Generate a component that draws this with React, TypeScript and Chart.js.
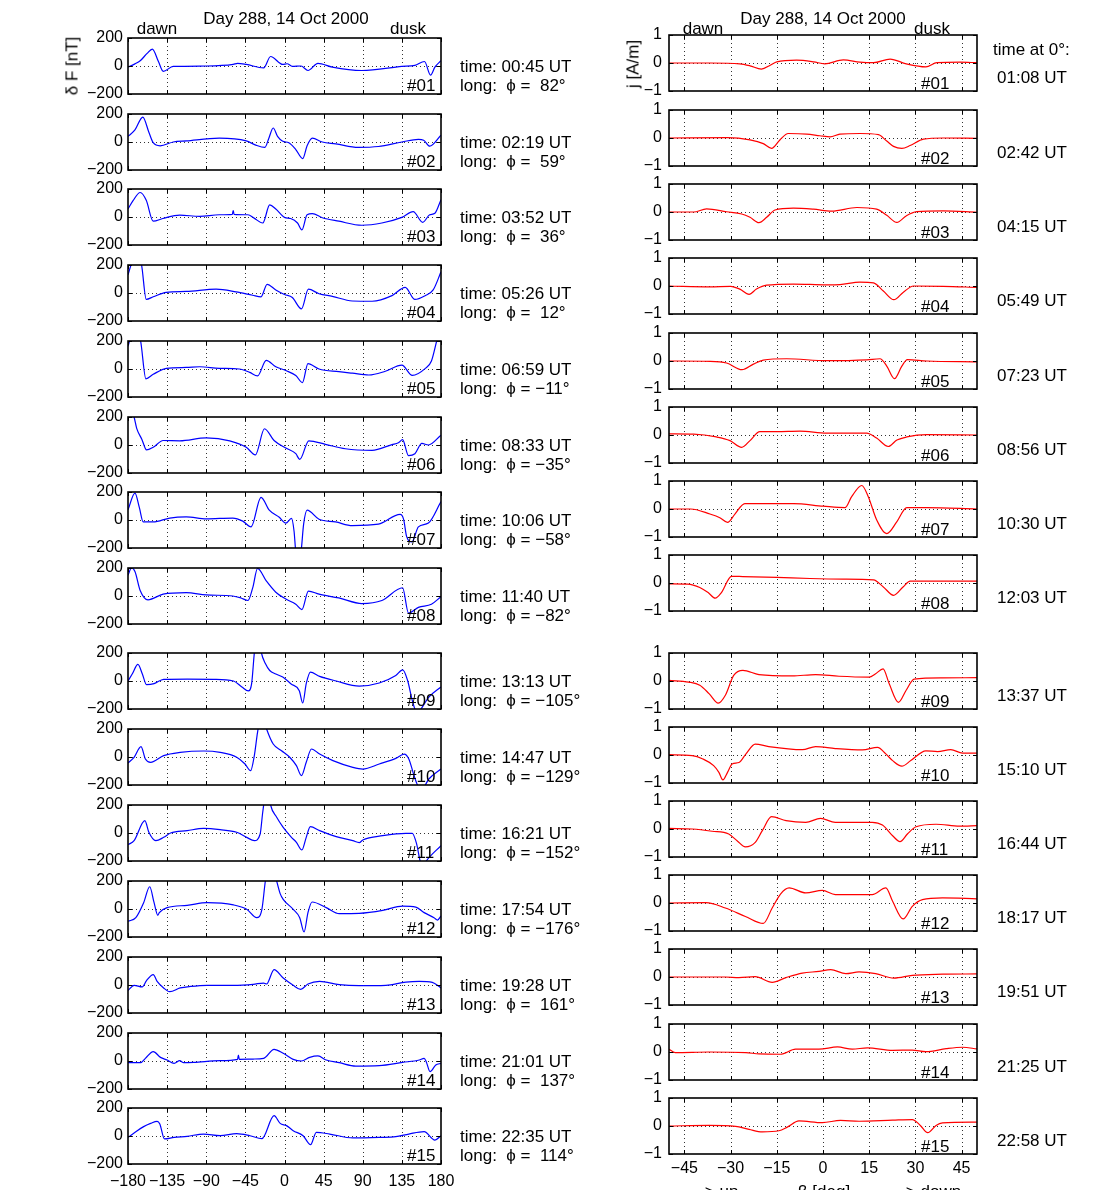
import React, { useEffect, useRef } from 'react';
import { Chart, registerables } from 'chart.js';
Chart.register(...registerables);

const FONT = '"Liberation Sans", Arial, Helvetica, sans-serif';

// ---------- left column: magnetic residual dF [nT] vs longitude ----------
const lon01 = [-180,-172,-166,-158,-152,-145,-139.5,-128,-90,-59,-54,-44,-24,-16,-2,3,9,19,27,38.5,55,89,135,150,161,168,173,180];
const dF01 = [-8,15,37,90,121,32,-38,-3,0,11,19,11,-14,68,11,16,-3,0,-32,19,-8,-32,-3,5,32,-65,-8,38];
const lon02 = [-180,-172,-163,-156,-151,-143,-128,-113,-75,-44,-33,-22.5,-18,-13,-8,-2,5,13,21,26,32,43.5,59,85,108,135,154,160,167,180];
const dF02 = [40,86,178,70,-5,-27,0,8,27,8,-22,-38,27,100,40,5,-5,-54,-119,-27,27,0,-13,-38,-32,0,19,13,-30,49];
const lon03 = [-180,-174,-166,-159,-151,-140,-120.5,-97.6,-75,-60,-59,-58,-42,-35,-25,-17,-10,0,7,15,20,26,32,43.5,62.5,89,112,135,148,159,167,173,180];
const dF03 = [57,119,175,119,-30,-11,13,5,16,19,46,19,16,-8,-43,86,57,-3,-11,-43,-92,16,24,-5,-30,-59,-43,-3,38,-38,16,27,124];
const lon04 = [-180,-176,-170,-164.4,-159,-151,-136,-113,-78.6,-55.7,-36.6,-27,-20,-10,0,9,19.5,27.5,39.7,55,78,100.7,123.6,138.8,150,161.7,171,180];
const dF04 = [130,210,300,200,-46,-27,5,11,27,8,-16,-27,62,22,-11,-32,-113,27,-5,-24,-57,-59,-19,40,-46,-19,22,151];
const lon05 = [-180,-178,-172,-165.5,-159.4,-151,-135.8,-113,-97.6,-75,-52,-40,-31,-21,-10,1.5,13,20.6,27,39.7,62.5,78,97,116,135,147,161.7,169,175,180];
const dF05 = [162,205,320,200,-70,-38,5,11,16,5,0,-24,-49,62,16,-11,-46,-97,38,0,-19,-30,-43,-16,27,-46,3,57,200,330];
const lon06 = [-180,-173,-170,-164,-158.7,-151,-139.6,-120.5,-90,-63,-44,-33.5,-23,-12,1.5,13,17.5,28,47,70,100.7,123.6,131,135.8,142.6,150,158,165.5,180];
const dF06 = [320,200,119,40,-35,-16,32,30,51,30,-16,-70,116,32,-22,-62,-103,30,5,-27,-38,3,16,38,-76,-62,11,0,70];
const lon07 = [-180,-172,-167,-162.5,-151,-132,-113,-90,-59.5,-48,-38.5,-27,-17.5,-6,1.5,8,11,13,16,19,22,26,39.7,58.7,78,108,133,137,140.5,146.5,154,165.5,180];
const dF07 = [73,192,90,-14,-14,14,22,8,14,-8,-49,162,70,19,-22,11,-80,-230,-300,-230,-30,70,5,-14,-40,-30,40,5,-119,-157,-49,-22,132];
const lon08 = [-180,-176,-172,-166,-157,-139.6,-113,-90,-59.5,-50,-42,-36.5,-31,-21,-10,1.5,13,20,27.5,39.7,62.5,89,112,135.8,142.6,154,169,180];
const dF08 = [148,200,175,40,-27,13,24,8,0,-14,-32,60,197,108,27,-22,-59,-97,35,13,-14,-54,-32,59,-122,-81,-59,-5];
const lon09 = [-180,-175,-168.6,-163.6,-158.7,-150,-139,-112,-81.6,-58.7,-49,-41.6,-37.8,-35,-33,-29,-26.5,-22,-17,-10,-2,7.6,17,21,25,29.7,40.4,59.5,86,109,128,136,141.5,147,150,153,157,166,180];
const dF09 = [0,52,119,52,-26,-19,12,14,12,0,-43,-71,-19,180,300,300,200,125,75,50,28,-21,-69,-157,-19,64,33,0,-36,-14,40,80,5,-140,-200,-230,-200,-115,-42];
const lon10 = [-180,-173,-165,-160,-154,-139,-120,-93,-74,-55,-45.4,-39,-34.7,-31,-28,-24,-20.6,-13,-3.4,6,13.7,19.5,25,31,40.4,55.7,78.6,90,109,128,137.7,143,149,153,158,166,180];
const dF10 = [-43,-2,74,-14,-38,10,33,43,33,-2,-50,-98,10,176,270,270,200,93,45,-2,-62,-133,-38,57,21,-26,-74,-86,-50,-10,21,-14,-133,-200,-230,-157,-86];
const lon11 = [-180,-173,-160.6,-156,-148,-139,-131,-112,-93,-74,-55,-43.5,-34.7,-28,-25,-21,-18,-16,-9,-1.5,8,13.7,20,25,29.7,40.4,59.5,78.6,86,90,113,139.6,147,152,156,159,163,180];
const dF11 = [-83,-55,88,5,-55,-31,0,17,33,24,5,-31,-55,-7,150,300,280,200,112,40,-31,-67,-121,-31,45,17,-26,-55,-69,-50,-19,-2,-2,-79,-200,-240,-200,-90];
const lon12 = [-180,-171,-162,-155,-150,-145.7,-144,-135,-112,-89,-58.7,-43.5,-32,-26,-22,-19,-13,-9,-5,-1.5,10,17.5,22.5,27,31.7,48,63,86,113,135.8,151,160.6,172,176,180];
const dF12 = [-88,-62,45,159,45,-45,-26,10,26,45,29,-2,-62,-2,200,300,300,200,110,69,-2,-62,-164,-26,50,10,-33,-31,-10,21,14,-26,-62,-79,-50];
const lon13 = [-180,-173,-163.6,-158.7,-151,-146.5,-139,-132,-120,-108,-89,-58.7,-36,-24,-20.6,-12,-1.5,10,18.7,27,40.4,63,86,116.7,139.6,155,170,180];
const dF13 = [-40,-2,-14,31,74,26,-21,-48,-21,-10,-2,-2,5,14,7,110,50,-2,-31,7,26,2,-5,-2,21,26,19,-21];
const lon14 = [-180,-165.5,-160,-151,-142.6,-135,-127,-120.5,-116,-104.5,-74,-54,-53,-52,-36,-24,-12,-1.5,10,19.5,29,38.5,48,63,82,109,135.8,155,160.6,163,167.4,174,180];
const dF14 = [-12,-12,19,67,26,7,-17,2,-12,-10,2,12,43,12,14,19,83,55,12,0,26,36,7,-12,-36,-33,-10,7,19,-5,-76,-29,-17];
const lon15 = [-180,-173,-162,-154,-146.5,-143.4,-138,-127,-112,-93,-74,-55,-39.7,-26,-12,-5,2.3,10,21.4,30,36.6,52,78.6,109,128,143,160.6,173,180];
const dF15 = [-10,21,67,90,105,86,-21,-10,-2,14,2,17,2,-19,145,90,74,38,2,-62,26,14,-14,-10,-5,14,31,-29,2];

// ---------- right column: current density j [A/m] vs beta ----------
const beta01 = [-50,-36.7,-27,-23.7,-20,-17,-15,-8.6,-3,0.6,6.6,12,16.4,21.8,27,33.4,37,44.5,50];
const j01 = [0,0,-0.03,-0.1,-0.22,-0.07,0.04,0.1,0.04,-0.03,0.11,0.03,0.01,0.14,-0.03,-0.14,0.01,0.03,0.01];
const beta02 = [-50,-31,-23.7,-19.4,-16.7,-14,-11.3,-5.3,-1,2.3,5.5,12,18,20.7,22.9,25.6,28.3,32.6,39,50];
const j02 = [0,0.01,-0.07,-0.2,-0.37,-0.07,0.16,0.14,0.08,0.04,0.14,0.16,0.12,-0.11,-0.3,-0.37,-0.27,-0.04,0,-0.01];
const beta03 = [-50,-42,-37.8,-31.3,-26.4,-23.7,-20.8,-18.3,-15.6,-9.6,-3.1,2.8,11,17.4,20.7,24,27,30.4,39,50];
const j03 = [0,0,0.11,0.01,-0.07,-0.19,-0.38,-0.19,0.07,0.14,0.1,0.03,0.16,0.1,-0.12,-0.37,-0.14,0.01,0.04,-0.01];
const beta04 = [-50,-36.7,-30,-27,-24,-21.6,-18.3,-9.6,1.2,5.5,12,16.4,19.6,23,26,29.4,39,50];
const j04 = [0,-0.03,-0.01,-0.11,-0.3,-0.11,0.03,0.07,0.04,0.05,0.14,0.11,-0.18,-0.49,-0.23,0,-0.01,-0.05];
const beta05 = [-50,-36.7,-31.3,-26.3,-22.6,-19.4,-11.8,1.2,14.2,18.5,20.7,23.2,25.6,27.4,33.7,50];
const j05 = [0,-0.01,-0.07,-0.31,-0.11,0.03,0.08,0.01,0.04,0.08,-0.18,-0.63,-0.18,0.05,0,-0.03];
const beta06 = [-50,-42,-34.6,-30.2,-26.4,-23.7,-20.5,-15,-7.5,1.2,14.2,17.4,21.2,24,27.2,33.7,50];
const j06 = [0.04,0.03,-0.07,-0.2,-0.44,-0.2,0.12,0.12,0.14,0.07,0.07,-0.11,-0.41,-0.18,-0.07,0.01,0];
const beta07 = [-50,-43,-36.7,-33.5,-31,-28.6,-25.4,-20.5,-9.6,0.1,7.2,9.3,12.6,14.7,17.4,20.7,24,27.2,33.7,50];
const j07 = [0,0,-0.18,-0.31,-0.48,-0.18,0.19,0.19,0.19,0.1,0.05,0.44,0.84,0.44,-0.38,-0.88,-0.45,0.05,0.05,0];
const beta08 = [-50,-44,-40,-37.3,-35,-33,-29.7,-26,-15,-4.2,6.6,16.4,19.6,22.9,26,28.3,39,50];
const j08 = [-0.03,-0.04,-0.16,-0.34,-0.54,-0.34,0.24,0.23,0.2,0.16,0.14,0.11,-0.14,-0.44,-0.14,0.07,0.07,0.07];
const beta09 = [-50,-43.6,-40,-37,-34,-31.7,-29,-26,-20.8,-10,-2.4,5.2,15,17.1,19.5,21.5,24.5,27,29.6,38.8,50];
const j09 = [0.02,-0.04,-0.15,-0.45,-0.79,-0.51,0.2,0.38,0.23,0.18,0.23,0.17,0.14,0.26,0.43,-0.1,-0.76,-0.33,0.07,0.11,0.12];
const beta10 = [-50,-42.5,-39,-35.5,-33.8,-32.5,-31,-29.5,-27.3,-25,-22,-17.6,-6.7,-2.4,4,12.8,17.7,20.4,22.6,25.6,28.5,33.4,37.2,41.5,45.3,50];
const j10 = [0.01,-0.02,-0.14,-0.38,-0.62,-0.89,-0.62,-0.32,-0.27,0.04,0.39,0.3,0.19,0.3,0.23,0.18,0.27,0.04,-0.2,-0.4,-0.2,0.15,0.12,0.19,0.07,0.07];
const beta11 = [-50,-42.5,-36,-30.6,-27.9,-25.2,-22,-19.7,-16.7,-12,-5.6,-0.8,4,16,19.3,22.6,25,27.4,30.2,36.7,44.3,50];
const j11 = [0.02,0,-0.08,-0.18,-0.42,-0.64,-0.48,-0.06,0.44,0.3,0.24,0.38,0.24,0.24,0.14,-0.24,-0.45,-0.18,0.08,0.17,0.1,0.12];
const beta12 = [-50,-38,-31.7,-25.2,-19.4,-16.5,-13.8,-11,-5.6,-0.2,4,16,20.4,22.6,26,29,32.3,38.8,50];
const j12 = [0,0.01,-0.18,-0.48,-0.73,-0.18,0.32,0.54,0.36,0.45,0.3,0.3,0.54,0.06,-0.57,-0.12,0.12,0.18,0.15];
const beta13 = [-50,-31.7,-27.3,-22,-16.5,-12,-6.7,-1.3,2.5,7.4,11.7,17.1,23,29,38.8,50];
const j13 = [0,0,-0.02,0.01,-0.19,-0.02,0.14,0.2,0.26,0.12,0.18,0.12,-0.04,0.06,0.1,0.11];
const beta14 = [-50,-48,-37,-25,-20.8,-13.8,-8.9,-1.3,4.7,9.5,14.4,22.6,29,33.4,40,45.3,50];
const j14 = [0.1,-0.02,0,-0.02,-0.07,-0.08,0.1,0.1,0.18,0.1,0.15,0.06,0.07,0.01,0.12,0.17,0.11];
const beta15 = [-50,-37,-28.4,-24,-19.7,-14.3,-11.6,-7.8,-0.2,5.7,11.7,22.6,29,31.6,34,36.7,38.8,50];
const j15 = [0,0.02,-0.01,-0.12,-0.21,-0.17,-0.04,0.18,0.12,0.2,0.17,0.21,0.23,0.02,-0.24,0.02,0.11,0.14];

// ---------- labels ----------
const passIds = ['#01','#02','#03','#04','#05','#06','#07','#08','#09','#10','#11','#12','#13','#14','#15'];
const timeUT = ['00:45','02:19','03:52','05:26','06:59','08:33','10:06','11:40','13:13','14:47','16:21','17:54','19:28','21:01','22:35'];
const longDeg = ['82','59','36','12','−11','−35','−58','−82','−105','−129','−152','−176','161','137','114'];
const time0 = ['01:08','02:42','04:15','05:49','07:23','08:56','10:30','12:03','13:37','15:10','16:44','18:17','19:51','21:25','22:58'];
const lonTicks = [-180,-135,-90,-45,0,45,90,135,180];
const dFTicks = [-200,0,200];
const betaTicks = [-45,-30,-15,0,15,30,45];
const jTicks = [-1,0,1];

const lonSeries = [lon01,lon02,lon03,lon04,lon05,lon06,lon07,lon08,lon09,lon10,lon11,lon12,lon13,lon14,lon15];
const dFSeries = [dF01,dF02,dF03,dF04,dF05,dF06,dF07,dF08,dF09,dF10,dF11,dF12,dF13,dF14,dF15];
const betaSeries = [beta01,beta02,beta03,beta04,beta05,beta06,beta07,beta08,beta09,beta10,beta11,beta12,beta13,beta14,beta15];
const jSeries = [j01,j02,j03,j04,j05,j06,j07,j08,j09,j10,j11,j12,j13,j14,j15];

// ---------- layout ----------
const L_LEFT = 128, L_W = 313, R_LEFT = 669, R_W = 308, AREA_H = 56;
const leftTops = [38,114,189,265,341,417,492,568,653,729,805,881,957,1033,1108];
const rightTops = [35,110,184,258,333,407,481,555,653,727,801,875,949,1024,1098];

const fmt = (v: number) => (v < 0 ? '−' + Math.abs(v) : String(v));

const framePlugin = {
  id: 'frame',
  beforeDatasetsDraw(chart: any) {
    const { ctx, chartArea: a, scales } = chart;
    const x = scales.x, y = scales.y;
    ctx.save();
    ctx.strokeStyle = '#333';
    ctx.lineWidth = 1;
    ctx.setLineDash([1, 3]);
    x.ticks.forEach((t: any) => {
      const px = Math.round(x.getPixelForValue(t.value)) + 0.5;
      if (px > a.left + 2 && px < a.right - 2) {
        ctx.beginPath(); ctx.moveTo(px, a.top); ctx.lineTo(px, a.bottom); ctx.stroke();
      }
    });
    y.ticks.forEach((t: any) => {
      const py = Math.round(y.getPixelForValue(t.value)) + 0.5;
      if (py > a.top + 2 && py < a.bottom - 2) {
        ctx.beginPath(); ctx.moveTo(a.left, py); ctx.lineTo(a.right, py); ctx.stroke();
      }
    });
    ctx.restore();
  },
  afterDatasetsDraw(chart: any) {
    const { ctx, chartArea: a, scales } = chart;
    const x = scales.x, y = scales.y;
    ctx.save();
    ctx.strokeStyle = '#000';
    ctx.setLineDash([]);
    ctx.lineWidth = 1;
    x.ticks.forEach((t: any) => {
      const px = Math.round(x.getPixelForValue(t.value)) + 0.5;
      ctx.beginPath();
      ctx.moveTo(px, a.top); ctx.lineTo(px, a.top + 4);
      ctx.moveTo(px, a.bottom - 4); ctx.lineTo(px, a.bottom);
      ctx.stroke();
    });
    y.ticks.forEach((t: any) => {
      const py = Math.round(y.getPixelForValue(t.value)) + 0.5;
      ctx.beginPath();
      ctx.moveTo(a.left, py); ctx.lineTo(a.left + 4, py);
      ctx.moveTo(a.right - 4, py); ctx.lineTo(a.right, py);
      ctx.stroke();
    });
    ctx.lineWidth = 1.6;
    ctx.strokeRect(a.left, a.top, a.right - a.left, a.bottom - a.top);
    ctx.restore();
  },
};

type PanelProps = {
  xs: number[]; ys: number[]; color: string;
  areaLeft: number; areaTop: number; areaW: number;
  xMin: number; xMax: number; yMin: number; yMax: number;
  xTicks: number[]; yTicks: number[]; showX: boolean; yPad: number; xPad: number;
};

function Panel(p: PanelProps) {
  const ref = useRef<HTMLCanvasElement>(null);
  const YW = 70, PT = 20, PR = 24;
  const XH = p.showX ? 30 : 0;
  const PB = p.showX ? 4 : 20;
  const W = YW + p.areaW + PR;
  const H = PT + AREA_H + XH + PB;
  useEffect(() => {
    const font = { family: FONT, size: 16 };
    const chart = new Chart(ref.current as HTMLCanvasElement, {
      type: 'line',
      data: {
        datasets: [{
          data: p.xs.map((x, i) => ({ x, y: p.ys[i] })),
          borderColor: p.color,
          borderWidth: 1.2,
          pointRadius: 0,
          cubicInterpolationMode: 'monotone',
          clip: 0,
          fill: false,
        } as any],
      },
      options: {
        animation: false,
        responsive: false,
        devicePixelRatio: 1,
        events: [],
        layout: { padding: { top: PT, right: PR, bottom: PB, left: 0 } },
        plugins: { legend: { display: false }, tooltip: { enabled: false } },
        scales: {
          x: {
            type: 'linear', min: p.xMin, max: p.xMax,
            grid: { display: false, drawTicks: false, tickLength: 0 }, border: { display: false },
            afterBuildTicks: (s: any) => { s.ticks = p.xTicks.map((v) => ({ value: v })); },
            afterFit: (s: any) => { s.height = XH; },
            ticks: { display: p.showX, autoSkip: false, maxRotation: 0, minRotation: 0, padding: p.xPad, font, color: '#000', callback: (v: any) => fmt(Number(v)) },
          },
          y: {
            type: 'linear', min: p.yMin, max: p.yMax,
            grid: { display: false, drawTicks: false, tickLength: 0 }, border: { display: false },
            afterBuildTicks: (s: any) => { s.ticks = p.yTicks.map((v) => ({ value: v })); },
            afterFit: (s: any) => { s.width = YW; },
            ticks: { autoSkip: false, padding: p.yPad, font, color: '#000', callback: (v: any) => fmt(Number(v)) },
          },
        },
      } as any,
      plugins: [framePlugin],
    });
    return () => chart.destroy();
  }, []);
  return (
    <canvas
      ref={ref}
      width={W}
      height={H}
      style={{ position: 'absolute', left: p.areaLeft - YW, top: p.areaTop - PT, width: W, height: H }}
    />
  );
}

type TProps = { x: number; y: number; children: React.ReactNode; center?: boolean; rotate?: boolean; size?: number };
function T({ x, y, children, center, rotate, size = 17 }: TProps) {
  const tf = rotate ? 'translate(-50%, -50%) rotate(-90deg)' : center ? 'translate(-50%, -50%)' : 'translate(0, -50%)';
  return (
    <div style={{ position: 'absolute', left: x, top: y, transform: tf, fontFamily: FONT, fontSize: size, lineHeight: 1, whiteSpace: 'pre', color: '#000' }}>
      {children}
    </div>
  );
}

export default function App() {
  return (
    <div style={{ position: 'absolute', left: 0, top: 0, width: 1103, height: 1190, overflow: 'hidden', background: '#fff' }}>
      {lonSeries.map((xs, i) => (
        <Panel key={'L' + i} xs={xs} ys={dFSeries[i]} color="#0000ff"
          areaLeft={L_LEFT} areaTop={leftTops[i]} areaW={L_W}
          xMin={-180} xMax={180} yMin={-200} yMax={200}
          xTicks={lonTicks} yTicks={dFTicks} showX={i === 14} yPad={5} xPad={8} />
      ))}
      {betaSeries.map((xs, i) => (
        <Panel key={'R' + i} xs={xs} ys={jSeries[i]} color="#ff0000"
          areaLeft={R_LEFT} areaTop={rightTops[i]} areaW={R_W}
          xMin={-50} xMax={50} yMin={-1} yMax={1}
          xTicks={betaTicks} yTicks={jTicks} showX={i === 14} yPad={7} xPad={5} />
      ))}

      <T x={286} y={18} center>Day 288, 14 Oct 2000</T>
      <T x={823} y={18} center>Day 288, 14 Oct 2000</T>
      <T x={157} y={28} center>dawn</T>
      <T x={408} y={28} center>dusk</T>
      <T x={703} y={28} center>dawn</T>
      <T x={932} y={28} center>dusk</T>
      <T x={72} y={66} rotate>δ F [nT]</T>
      <T x={633} y={64} rotate>j [A/m]</T>
      <T x={993} y={49}>time at 0°:</T>

      {passIds.map((id, i) => (
        <React.Fragment key={'t' + i}>
          <T x={407} y={leftTops[i] + AREA_H - 9}>{id}</T>
          <T x={921} y={rightTops[i] + AREA_H - 8}>{id}</T>
          <T x={460} y={leftTops[i] + 28}>{'time: ' + timeUT[i] + ' UT'}</T>
          <T x={460} y={leftTops[i] + 47}>{'long:  ϕ = ' + (longDeg[i].startsWith('−') ? '' : ' ') + longDeg[i] + '°'}</T>
          <T x={997} y={rightTops[i] + 28 + 14}>{time0[i] + ' UT'}</T>
        </React.Fragment>
      ))}

      <T x={685} y={1191}>{'−−> up'}</T>
      <T x={824} y={1191} center>β [deg]</T>
      <T x={886} y={1191}>{'−−> down'}</T>
    </div>
  );
}
